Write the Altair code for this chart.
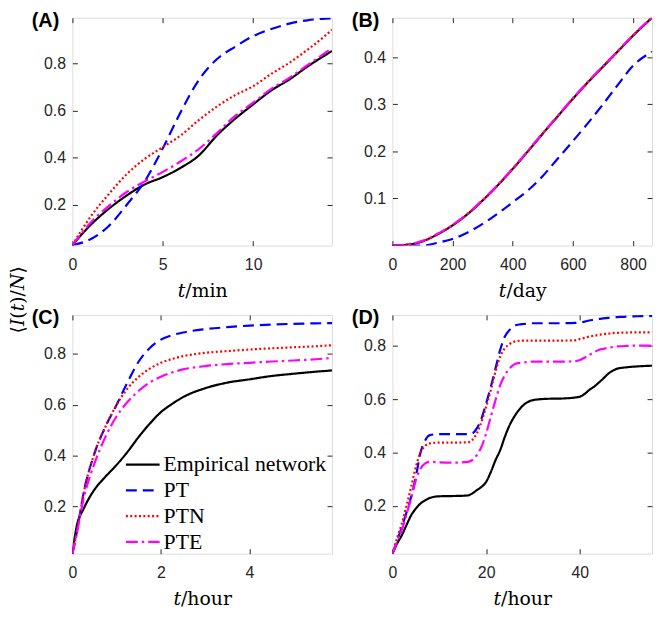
import altair as alt
import pandas as pd

SERIES = ["Empirical network", "PT", "PTN", "PTE"]
COLORS = ["#000000", "#0000ff", "#ff0000", "#ff00ff"]
DASHES = [[1, 0], [11, 6], [2, 2.4], [12, 4, 2.5, 4]]

# ---- Panel A (t/min)
a_t = [0, 1, 2, 3, 4, 5, 6, 7, 8, 9, 10, 11, 12, 13, 14, 14.36]
a_emp = [0.03, 0.115, 0.183, 0.24, 0.287, 0.318, 0.358, 0.41, 0.495, 0.565, 0.626, 0.685, 0.731, 0.786, 0.835, 0.852]
a_pt = [0.03, 0.055, 0.11, 0.2, 0.3, 0.44, 0.595, 0.73, 0.818, 0.87, 0.915, 0.945, 0.968, 0.982, 0.989, 0.99]
a_ptn = [0.03, 0.15, 0.245, 0.33, 0.395, 0.445, 0.495, 0.56, 0.617, 0.665, 0.703, 0.755, 0.802, 0.857, 0.918, 0.942]
a_pte = [0.03, 0.125, 0.195, 0.255, 0.3, 0.34, 0.385, 0.437, 0.505, 0.577, 0.633, 0.692, 0.738, 0.792, 0.845, 0.865]

# ---- Panel B (t/day)
b_t = [0, 50, 100, 150, 200, 250, 300, 350, 400, 450, 500, 550, 600, 650, 700, 750, 800, 863]
b_emp = [0, 0.002, 0.009, 0.024, 0.043, 0.067, 0.096, 0.128, 0.163, 0.2, 0.238, 0.275, 0.312, 0.347, 0.38, 0.413, 0.446, 0.484]
b_pt = [0, 0, 0, 0.006, 0.014, 0.028, 0.046, 0.068, 0.092, 0.117, 0.148, 0.185, 0.222, 0.26, 0.3, 0.342, 0.382, 0.412]
b_ptn = [0, 0.002, 0.009, 0.024, 0.043, 0.067, 0.096, 0.128, 0.163, 0.2, 0.238, 0.275, 0.312, 0.347, 0.38, 0.413, 0.446, 0.484]
b_pte = [0, 0.002, 0.01, 0.025, 0.044, 0.068, 0.097, 0.129, 0.164, 0.201, 0.239, 0.276, 0.313, 0.348, 0.381, 0.414, 0.447, 0.485]

# ---- Panel C (t/hour)
c_t = [0, 0.1, 0.25, 0.5, 0.75, 1, 1.25, 1.5, 1.75, 2, 2.25, 2.5, 3, 3.5, 4, 4.5, 5, 5.5, 5.87]
c_emp = [0.015, 0.125, 0.19, 0.267, 0.318, 0.364, 0.416, 0.474, 0.526, 0.571, 0.603, 0.63, 0.665, 0.687, 0.7, 0.713, 0.722, 0.73, 0.735]
c_pt = [0.015, 0.1, 0.25, 0.41, 0.515, 0.6, 0.69, 0.77, 0.823, 0.856, 0.873, 0.884, 0.897, 0.905, 0.911, 0.915, 0.918, 0.92, 0.921]
c_ptn = [0.015, 0.1, 0.25, 0.41, 0.515, 0.6, 0.665, 0.71, 0.742, 0.765, 0.78, 0.791, 0.804, 0.811, 0.817, 0.822, 0.826, 0.83, 0.834]
c_pte = [0.015, 0.095, 0.228, 0.37, 0.475, 0.555, 0.612, 0.655, 0.688, 0.71, 0.727, 0.739, 0.752, 0.76, 0.765, 0.77, 0.774, 0.779, 0.784]

# ---- Panel D (t/hour)
d_t = [0, 1, 2, 3, 4, 5, 6, 7, 8, 10, 13, 16, 17, 18, 19, 20, 21, 22, 23, 24, 25, 26, 27, 28, 29, 30,
       33, 36, 39, 40, 41, 42, 43, 44, 45, 46, 47, 48, 50, 52, 55.4]
d_emp = [0.021, 0.059, 0.09, 0.128, 0.165, 0.19, 0.209, 0.221, 0.23, 0.236, 0.237, 0.239, 0.246, 0.259, 0.271,
         0.29, 0.327, 0.371, 0.409, 0.459, 0.502, 0.534, 0.559, 0.578, 0.59, 0.596, 0.601, 0.602, 0.606, 0.609,
         0.619, 0.634, 0.646, 0.661, 0.677, 0.694, 0.706, 0.714, 0.719, 0.722, 0.725]
d_pt = [0.021, 0.07, 0.121, 0.175, 0.234, 0.309, 0.4, 0.446, 0.465, 0.469, 0.469, 0.469, 0.471, 0.49, 0.527,
        0.584, 0.646, 0.715, 0.784, 0.834, 0.859, 0.874, 0.879, 0.881, 0.883, 0.884, 0.884, 0.884, 0.885, 0.886,
        0.89, 0.894, 0.897, 0.9, 0.902, 0.904, 0.906, 0.907, 0.909, 0.91, 0.911]
d_ptn = [0.021, 0.08, 0.134, 0.2, 0.271, 0.346, 0.4, 0.425, 0.434, 0.437, 0.437, 0.438, 0.446, 0.471, 0.515,
         0.571, 0.634, 0.703, 0.759, 0.79, 0.806, 0.815, 0.818, 0.819, 0.819, 0.819, 0.819, 0.819, 0.82, 0.825,
         0.829, 0.834, 0.837, 0.84, 0.843, 0.845, 0.847, 0.848, 0.849, 0.85, 0.85]
d_pte = [0.021, 0.065, 0.109, 0.168, 0.228, 0.296, 0.34, 0.359, 0.365, 0.363, 0.362, 0.365, 0.371, 0.39, 0.421,
         0.471, 0.534, 0.596, 0.652, 0.69, 0.715, 0.73, 0.735, 0.737, 0.739, 0.74, 0.74, 0.74, 0.742, 0.746,
         0.755, 0.765, 0.775, 0.784, 0.788, 0.792, 0.795, 0.797, 0.799, 0.8, 0.8]

LABEL_FONT = "Liberation Sans"
SERIF = "Liberation Serif"
MATH = "DejaVu Serif"
INK = "#262626"


def make_df(t, ys):
    rows = []
    for s, y in zip(SERIES, ys):
        for tv, yv in zip(t, y):
            rows.append({"t": tv, "v": yv, "series": s})
    return pd.DataFrame(rows)


def panel(t, ys, xdom, ydom, xticks, yticks, xtitle, label, w, h, legend=None):
    df = make_df(t, ys)
    xs = alt.Scale(domain=xdom, nice=False, zero=False)
    yscale = alt.Scale(domain=ydom, nice=False, zero=False)
    common = dict(grid=False, domain=False, offset=-5, tickSize=5, tickColor=INK, tickWidth=1)
    ax_bottom = alt.Axis(values=xticks, title=xtitle, labelFont=LABEL_FONT, labelFontSize=16,
                         labelColor=INK, labelPadding=11, labelFlush=False, labelOverlap=False,
                         titleFont=MATH, titleFontSize=19, titleFontWeight="normal",
                         titleColor="black", titlePadding=9, **common)
    ax_left = alt.Axis(values=yticks, title="", labelFont=LABEL_FONT, labelFontSize=16,
                       labelColor=INK, labelPadding=7, labelFlush=False, labelOverlap=False, **common)
    ax_top = alt.Axis(orient="top", values=xticks, labels=False, title="", **common)
    ax_right = alt.Axis(orient="right", values=yticks, labels=False, title="", **common)
    if legend is None:
        color = alt.Color("series:N", scale=alt.Scale(domain=SERIES, range=COLORS), legend=None)
        dash = alt.StrokeDash("series:N", scale=alt.Scale(domain=SERIES, range=DASHES), legend=None)
    else:
        color = alt.Color("series:N", scale=alt.Scale(domain=SERIES, range=COLORS), legend=legend)
        dash = alt.StrokeDash("series:N", scale=alt.Scale(domain=SERIES, range=DASHES), legend=legend)
    layers = []
    for i, s in enumerate(SERIES):
        if i == 0:
            xenc = alt.X("t:Q", scale=xs, axis=ax_bottom)
            yenc = alt.Y("v:Q", scale=yscale, axis=ax_left)
        elif i == 1:
            xenc = alt.X("t:Q", scale=xs, axis=ax_top)
            yenc = alt.Y("v:Q", scale=yscale, axis=ax_right)
        else:
            xenc = alt.X("t:Q", scale=xs, axis=None)
            yenc = alt.Y("v:Q", scale=yscale, axis=None)
        layers.append(
            alt.Chart(df).transform_filter(alt.datum.series == s)
            .mark_line(strokeWidth=2.2, interpolate="monotone", clip=True)
            .encode(x=xenc, y=yenc, color=color, strokeDash=dash)
        )
    title = alt.TitleParams(label, anchor="start", frame="group", dx=-41, offset=-14,
                            fontSize=20, font=LABEL_FONT, fontWeight="bold", color="black")
    return (alt.layer(*layers)
            .resolve_axis(x="independent", y="independent")
            .properties(width=w, height=h, title=title))


legend_c = alt.Legend(orient="none", legendX=60, legendY=140, title=None,
                      symbolType="M-2,0H2", symbolSize=289, symbolStrokeWidth=2.2,
                      labelFont=SERIF, labelFontSize=22, labelColor="black", labelLimit=400,
                      rowPadding=4, labelOffset=10)

pA = panel(a_t, [a_emp, a_pt, a_ptn, a_pte], [0, 14.36], [0.028, 0.993], [0, 5, 10],
           [0.2, 0.4, 0.6, 0.8], "𝑡/min", "(A)", 262, 230)
pB = panel(b_t, [b_emp, b_pt, b_ptn, b_pte], [0, 863], [0, 0.484], [0, 200, 400, 600, 800],
           [0.1, 0.2, 0.3, 0.4], "𝑡/day", "(B)", 262, 230)
pC = panel(c_t, [c_emp, c_pt, c_ptn, c_pte], [0, 5.87], [0.015, 0.953], [0, 2, 4],
           [0.2, 0.4, 0.6, 0.8], "𝑡/hour", "(C)", 262, 241, legend=legend_c)
pD = panel(d_t, [d_emp, d_pt, d_ptn, d_pte], [0, 55.4], [0.021, 0.915], [0, 20, 40],
           [0.2, 0.4, 0.6, 0.8], "𝑡/hour", "(D)", 262, 241)

top = alt.hconcat(pA, pB, spacing=18).resolve_scale(color="independent", strokeDash="independent")
bottom = alt.hconcat(pC, pD, spacing=18).resolve_scale(color="independent", strokeDash="independent")

chart = (alt.vconcat(top, bottom, spacing=7)
         .resolve_scale(color="independent", strokeDash="independent")
         .properties(
             padding={"left": 1, "top": 0, "right": 0, "bottom": -3},
             title=alt.TitleParams("⟨𝐼(𝑡)/𝑁⟩", orient="left", anchor="middle", offset=3, dx=10,
                                   fontSize=19, font=MATH, fontWeight="normal", color="black"))
         .configure_view(stroke=INK, strokeWidth=2)
         .configure(background="white"))

chart.save("out.html", embed_options={"renderer": "svg", "actions": False})
